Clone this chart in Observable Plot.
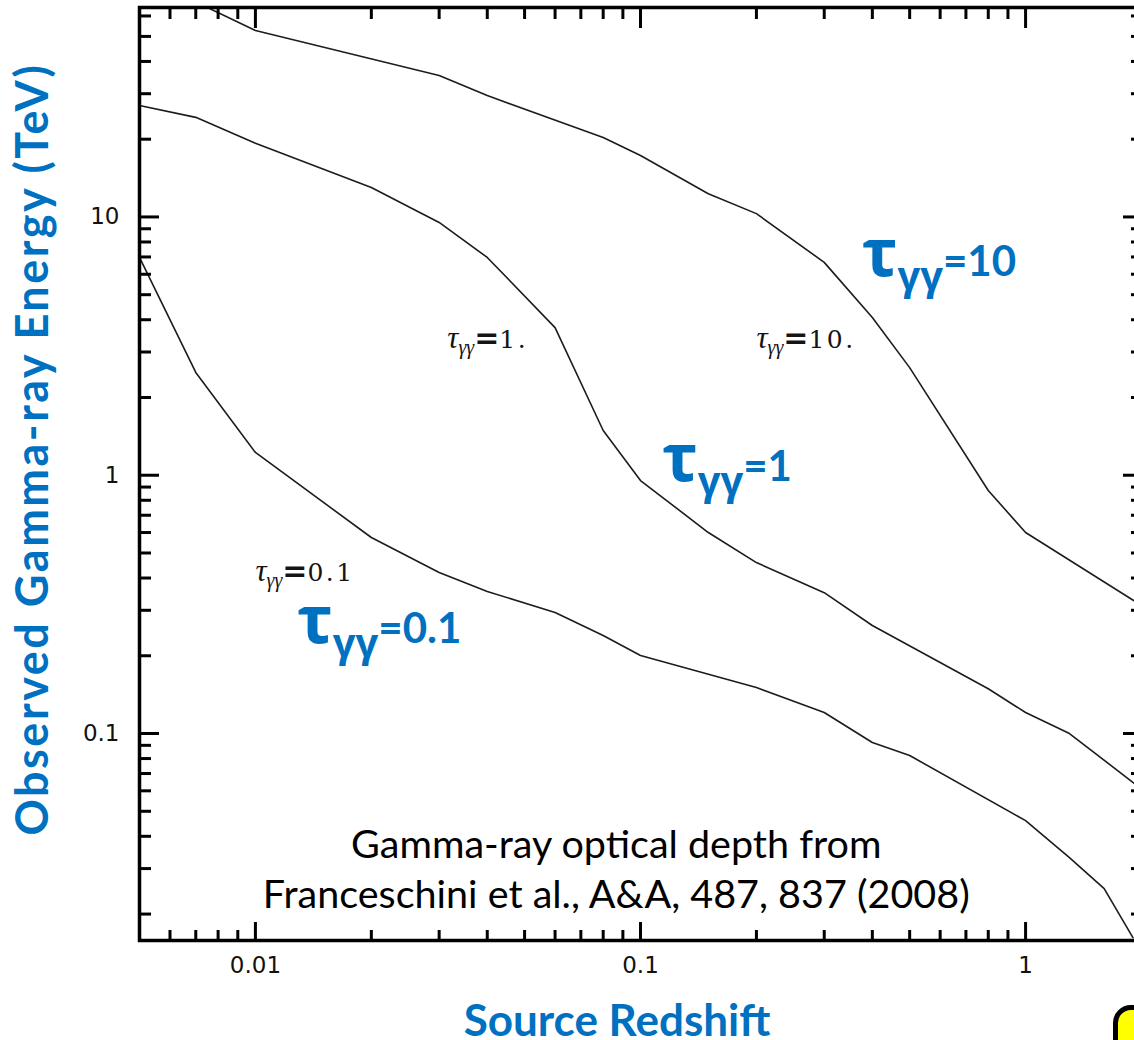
<!DOCTYPE html>
<html>
<head>
<meta charset="utf-8">
<script src="https://cdn.jsdelivr.net/npm/d3@7"></script>
<script src="https://cdn.jsdelivr.net/npm/@observablehq/plot@0.6"></script>
<style>
  html, body { margin: 0; padding: 0; background: #fff; overflow: hidden; width: 1134px; height: 1040px; }
  #chart { position: relative; width: 1134px; height: 1040px; }
  #badge { position: absolute; left: 1113px; top: 1005px; width: 70px; height: 70px; box-sizing: border-box;
           background: #ffff00; border: 5px solid #000; border-radius: 18px; }
</style>
</head>
<body>
<div id="chart"></div>
<div id="badge"></div>
<script>
// Observed gamma-ray energy (TeV) at which the optical depth reaches a given value,
// as a function of source redshift (Franceschini et al. 2008).
const zTau01 = [0.005, 0.007, 0.01, 0.02, 0.03, 0.04, 0.06, 0.08, 0.1, 0.2, 0.3, 0.4, 0.5, 1.0, 1.3, 1.6, 1.9];
const eTau01 = [6.97, 2.50, 1.225, 0.574, 0.420, 0.355, 0.294, 0.2395, 0.2005, 0.1507, 0.1206, 0.0923, 0.0822, 0.046, 0.0331, 0.0251, 0.0162];

const zTau1 = [0.005, 0.007, 0.01, 0.02, 0.03, 0.04, 0.06, 0.08, 0.1, 0.15, 0.2, 0.3, 0.4, 0.8, 1.0, 1.3, 2.0];
const eTau1 = [27.0, 24.3, 19.3, 13.0, 9.52, 6.97, 3.73, 1.49, 0.954, 0.600, 0.459, 0.351, 0.262, 0.149, 0.1206, 0.100, 0.061];

const zTau10 = [0.007, 0.01, 0.03, 0.04, 0.08, 0.1, 0.15, 0.2, 0.3, 0.4, 0.5, 0.8, 1.0, 2.0];
const eTau10 = [68, 52.7, 35.3, 29.5, 20.3, 17.3, 12.3, 10.3, 6.67, 4.08, 2.61, 0.873, 0.600, 0.313];

const tauNames = ["0.1", "1", "10"];

// Axis ticks
const xMajor = [0.01, 0.1, 1];
const xMajorText = ["0.01", "0.1", "1"];
const xMinor = [0.006, 0.007, 0.008, 0.009, 0.02, 0.03, 0.04, 0.05, 0.06, 0.07, 0.08, 0.09,
                0.2, 0.3, 0.4, 0.5, 0.6, 0.7, 0.8, 0.9];
const yMajor = [0.1, 1, 10];
const yMajorText = ["0.1", "1", "10"];
const yMinor = [0.02, 0.03, 0.04, 0.05, 0.06, 0.07, 0.08, 0.09,
                0.2, 0.3, 0.4, 0.5, 0.6, 0.7, 0.8, 0.9,
                2, 3, 4, 5, 6, 7, 8, 9, 20, 30, 40, 50, 60];

// Contour labels from the original figure
const paperLabelText = ["τγγ=0.1", "τγγ=1.", "τγγ=10."];
const paperLabelZ = [0.01, 0.0315, 0.2];
const paperLabelE = [0.418, 3.33, 3.33];

// Highlighted contour labels
const blueLabelText = ["τγγ=0.1", "τγγ=1", "τγγ=10"];
const blueLabelZ = [0.01285, 0.1139, 0.376];
const blueLabelE = [0.2527, 1.072, 6.67];

const captionLines = ["Gamma-ray optical depth from\nFranceschini et al., A&A, 487, 837 (2008)"];
const captionZ = [0.0865];
const captionE = [0.03055];

const xTitle = ["Source Redshift"];
const yTitle = ["Observed Gamma-ray Energy (TeV)"];

const LABEL_BLUE = "#0070C0";
const TITLE_BLUE = "rgb(0,112,192)";
const PAPER_INK = "#141414";

const curveRows = [
  [zTau01, eTau01, tauNames[0]],
  [zTau1, eTau1, tauNames[1]],
  [zTau10, eTau10, tauNames[2]]
].flatMap(([zs, es, tau]) => zs.map((z, i) => ({tau, z, e: es[i]})));

const tickStyle = {fill: "none", label: null, strokeWidth: 3, stroke: "#000"};

const chart = Plot.plot({
  width: 1134,
  height: 1040,
  marginLeft: 139,
  marginRight: -7,
  marginTop: 7,
  marginBottom: 100,
  style: {background: "#fff", overflow: "hidden"},
  x: {type: "log", domain: [0.005, 2]},
  y: {type: "log", domain: [0.0158, 64.7]},
  marks: [
    Plot.line(curveRows, {x: "z", y: "e", z: "tau", stroke: "#1c1c1c", strokeWidth: 1.6, clip: true}),

    // inward ticks on all four sides
    Plot.axisX(xMinor, {anchor: "bottom", tickSize: -10, ...tickStyle}),
    Plot.axisX(xMajor, {anchor: "bottom", tickSize: -18, ...tickStyle}),
    Plot.axisX(xMinor, {anchor: "top", tickSize: -11, ...tickStyle}),
    Plot.axisX(xMajor, {anchor: "top", tickSize: -20, ...tickStyle}),
    Plot.axisY(yMinor, {anchor: "left", tickSize: -12, ...tickStyle}),
    Plot.axisY(yMajor, {anchor: "left", tickSize: -20, ...tickStyle}),
    Plot.axisY(yMinor, {anchor: "right", tickSize: -11, ...tickStyle}),
    Plot.axisY(yMajor, {anchor: "right", tickSize: -19, ...tickStyle}),

    // tick labels
    Plot.axisX(xMajor, {anchor: "bottom", tickSize: 0, tickPadding: 16, label: null,
      tickFormat: d => xMajorText[xMajor.indexOf(d)], fontFamily: "DejaVu Sans", fontSize: 23, fill: "#111"}),
    Plot.axisY(yMajor, {anchor: "left", tickSize: 0, tickPadding: 20, label: null,
      tickFormat: d => yMajorText[yMajor.indexOf(d)], fontFamily: "DejaVu Sans", fontSize: 23, fill: "#111"}),

    Plot.frame({stroke: "#000", strokeWidth: 3.5}),

    Plot.text(paperLabelText, {x: paperLabelZ, y: paperLabelE, text: paperLabelText,
      textAnchor: "start", fontSize: 24, fill: PAPER_INK}),
    Plot.text(blueLabelText, {x: blueLabelZ, y: blueLabelE, text: blueLabelText,
      textAnchor: "start", fontSize: 42, fill: LABEL_BLUE}),

    Plot.text(captionLines, {x: captionZ, y: captionE, text: d => d, lineHeight: 1.27,
      fontFamily: "Lato", fontSize: 39.5, fill: "#000"}),

    Plot.text(xTitle, {frameAnchor: "bottom", text: d => d, textAnchor: "middle", lineAnchor: "middle",
      dx: -23.5, dy: 81, fontFamily: "Lato", fontWeight: 700, fontSize: 44, fill: TITLE_BLUE}),
    Plot.text(yTitle, {frameAnchor: "left", text: d => d, textAnchor: "middle", lineAnchor: "middle",
      rotate: -90, dx: -106, dy: -25, fontFamily: "Lato", fontWeight: 700, fontSize: 45, fill: TITLE_BLUE})
  ]
});

document.getElementById("chart").appendChild(chart);

// Slightly looser tracking on the long vertical title
d3.select(chart).selectAll(`g[fill="${TITLE_BLUE}"] text`)
  .filter(function () { return this.textContent === yTitle[0]; })
  .attr("letter-spacing", 2.5);

// Rich text for the τ_γγ labels: large τ, subscript γγ, then the value.
const SVGNS = "http://www.w3.org/2000/svg";
function addSpan(el, text, attrs) {
  const s = document.createElementNS(SVGNS, "tspan");
  for (const [k, v] of Object.entries(attrs)) if (v != null) s.setAttribute(k, v);
  s.textContent = text;
  el.appendChild(s);
}
d3.select(chart).selectAll(`g[fill="${LABEL_BLUE}"] text`).each(function () {
  const value = this.textContent.slice(3);
  this.textContent = "";
  addSpan(this, "τ", {"font-family": "Open Sans", "font-weight": 700, "font-size": 66});
  addSpan(this, "γγ", {"font-family": "Open Sans", "font-weight": 700, "font-size": 40, dy: 14});
  addSpan(this, value, {"font-family": "Lato", "font-weight": 700, "font-size": 42, dy: -14});
});
d3.select(chart).selectAll(`g[fill="${PAPER_INK}"] text`).each(function () {
  const value = this.textContent.slice(4);
  this.textContent = "";
  addSpan(this, "τ", {"font-family": "Liberation Serif", "font-style": "italic", "font-size": 31});
  addSpan(this, "γγ", {"font-family": "Liberation Serif", "font-style": "italic", "font-size": 20, dy: 6});
  addSpan(this, "=", {"font-family": "DejaVu Sans", "font-weight": 700, "font-size": 30, dy: -6});
  addSpan(this, value, {"font-family": "DejaVu Serif", "font-size": 25, "letter-spacing": 2.5});
});
</script>
</body>
</html>
